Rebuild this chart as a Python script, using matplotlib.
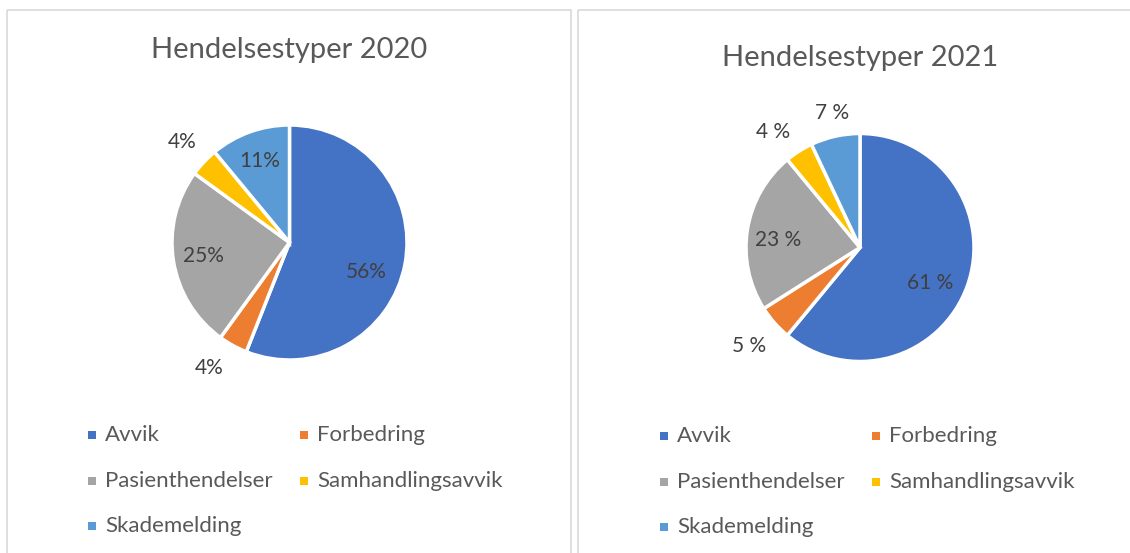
import numpy as np
import matplotlib
matplotlib.use("Agg")
import matplotlib.pyplot as plt
from matplotlib.patches import Rectangle

categories = ["Avvik", "Forbedring", "Pasienthendelser", "Samhandlingsavvik", "Skademelding"]
values_2020 = [56, 4, 25, 4, 11]
values_2021 = [61, 5, 23, 4, 7]
labels_2020 = ["56%", "4%", "25%", "4%", "11%"]
labels_2021 = ["61 %", "5 %", "23 %", "4 %", "7 %"]
titles = ["Hendelsestyper 2020", "Hendelsestyper 2021"]
colors = ["#4472C4", "#ED7D31", "#A5A5A5", "#FFC000", "#5B9BD5"]

# label placement (radius factor, angle offset in degrees) per slice
lab_pos_2020 = [(0.70, -10), (1.27, -4), (0.745, 0), (1.25, 0), (0.74, 0)]
lab_pos_2021 = [(0.69, -7), (1.30, 0), (0.72, 4), (1.265, 4.7), (1.20, -1)]

W, H = 1130, 553
fig = plt.figure(figsize=(W / 100, H / 100), dpi=100)
fig.patch.set_facecolor("white")

FONT = "Lato"
TXT = "#595959"
LAB = "#404040"

# overlay axes in pixel coordinates
ov = fig.add_axes([0, 0, 1, 1])
ov.set_xlim(0, W)
ov.set_ylim(H, 0)
ov.axis("off")

# panel borders
ov.add_patch(Rectangle((7, 10), 564, 560, fill=False, edgecolor="#D9D9D9", lw=1.2))
ov.add_patch(Rectangle((578, 10), 560, 560, fill=False, edgecolor="#D9D9D9", lw=1.2))

panels = [
    dict(vals=values_2020, labs=labels_2020, pos=lab_pos_2020, title=titles[0],
         cx=289.5, cy=242.5, R=117.5, ty=50, legx=(92, 304), legy=(435, 481, 526)),
    dict(vals=values_2021, labs=labels_2021, pos=lab_pos_2021, title=titles[1],
         cx=860, cy=247.5, R=114, ty=58, legx=(664, 876), legy=(436, 482, 527)),
]

for p in panels:
    cx, cy, R = p["cx"], p["cy"], p["R"]
    ax = fig.add_axes([(cx - R) / W, 1 - (cy + R) / H, 2 * R / W, 2 * R / H])
    wedges, _ = ax.pie(p["vals"], colors=colors, startangle=90, counterclock=False,
                       radius=1, wedgeprops=dict(edgecolor="white", linewidth=2.5))
    ax.set_xlim(-1, 1)
    ax.set_ylim(-1, 1)
    ax.axis("off")
    for w, lab, (rf, off) in zip(wedges, p["labs"], p["pos"]):
        mid = np.deg2rad((w.theta1 + w.theta2) / 2 + off)
        t = ax.text(rf * np.cos(mid), rf * np.sin(mid), lab, ha="center", va="center",
                    fontsize=15, color=LAB, family=FONT)
        t.set_clip_on(False)
    for w in wedges:
        w.set_clip_on(False)
    ov.text(cx, p["ty"], p["title"], ha="center", va="center", fontsize=21,
            color=TXT, family=FONT)
    for i, name in enumerate(categories):
        row, col = i // 2, i % 2
        x = p["legx"][col]
        y = p["legy"][row]
        ov.add_patch(Rectangle((x - 4, y - 4), 8, 8, facecolor=colors[i], edgecolor="none"))
        ov.text(x + 13, y, name, ha="left", va="center", fontsize=16, color=TXT, family=FONT)

fig.savefig("out.png", dpi=100, facecolor="white")
